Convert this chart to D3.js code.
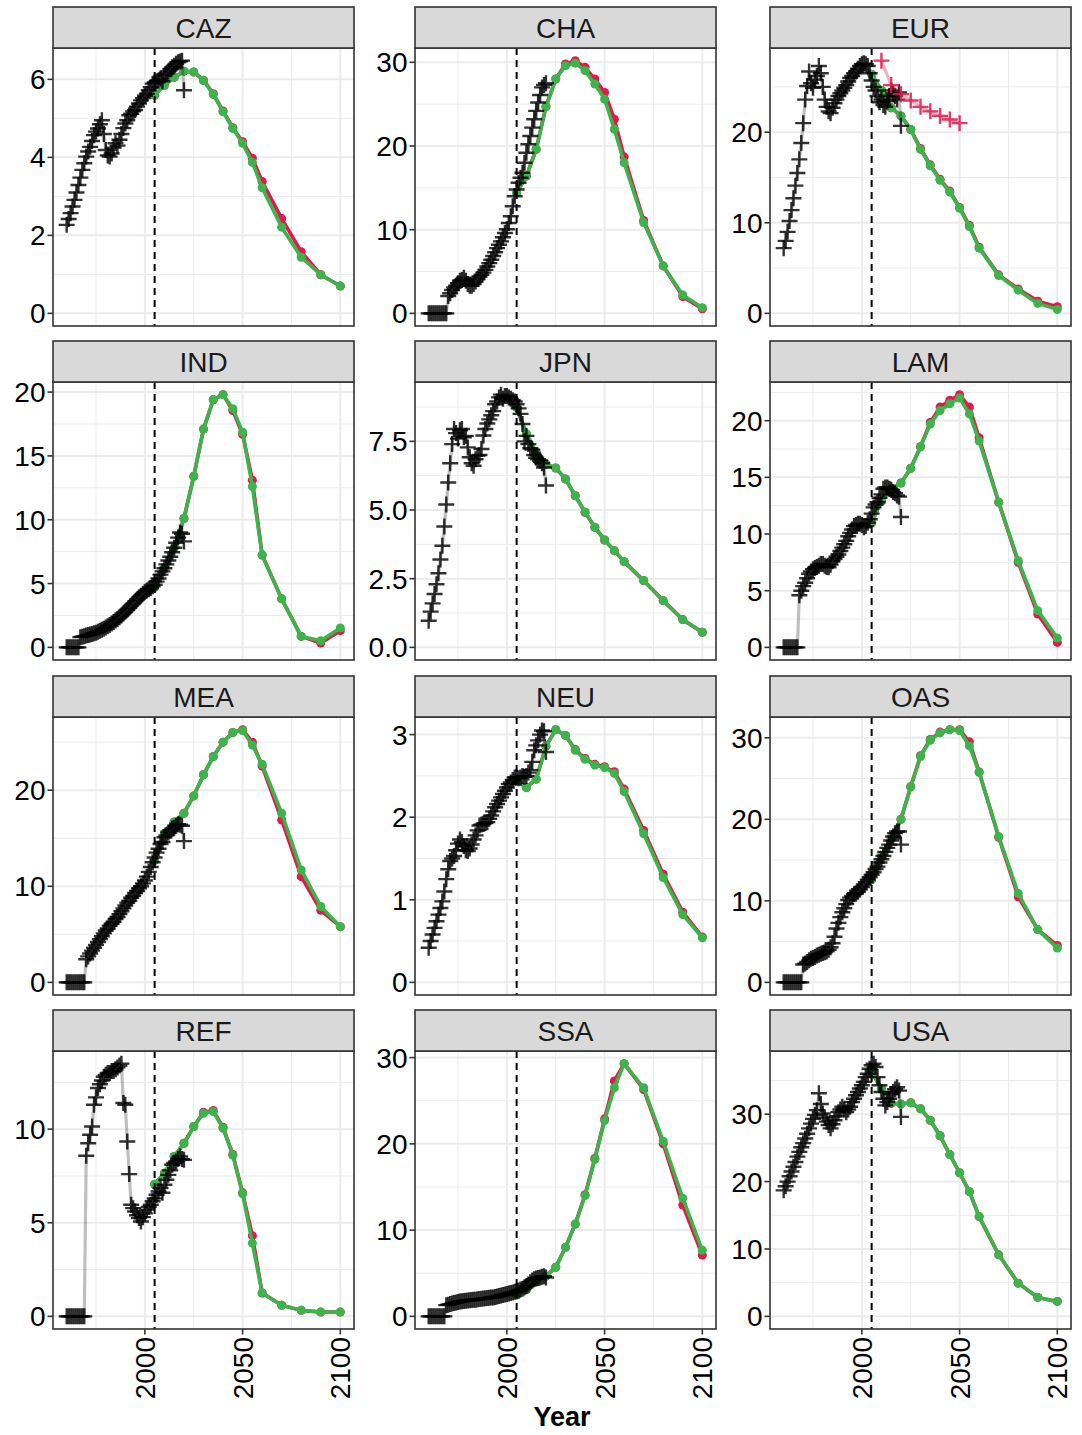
<!DOCTYPE html>
<html><head><meta charset="utf-8">
<script src="https://cdn.jsdelivr.net/npm/d3@7"></script>
<style>body{margin:0;background:#fff} svg text{font-family:"Liberation Sans",Arial,Helvetica,sans-serif}</style>
</head><body><svg id="c" width="1082" height="1435"></svg>
<script>
// ---------------- DATA ----------------
const regions = ["CAZ","CHA","EUR","IND","JPN","LAM","MEA","NEU","OAS","REF","SSA","USA"];
const histYears = d3.range(1960, 2021);
const scenYears = [2005,2010,2015,2020,2025,2030,2035,2040,2045,2050,2055,2060,2070,2080,2090,2100];
const targetYears = [2010,2015,2020,2025,2030,2035,2040,2045,2050];
const xTicks = [2000, 2050, 2100];
const xMinor = [1975, 2025, 2075];
const refYear = 2005;

const histCAZ = [2.27,2.42,2.57,2.74,2.91,3.10,3.29,3.48,3.68,3.85,4.02,4.15,4.27,4.42,4.57,4.66,4.74,4.85,4.95,4.60,4.19,4.05,4.02,4.10,4.25,4.36,4.30,4.45,4.60,4.75,4.87,4.95,5.08,5.12,5.18,5.21,5.30,5.38,5.46,5.52,5.58,5.63,5.72,5.80,5.89,5.92,5.95,5.97,6.02,5.95,6.10,6.15,6.20,6.26,6.31,6.35,6.40,6.44,6.46,6.48,5.72];
const histCHA = [0,0,0,0,0,0,0,0,0,0,2.07,2.4,2.8,3.1,3.3,3.6,3.9,4.0,4.27,3.9,3.5,3.3,3.3,3.5,3.8,4.1,4.4,4.6,4.87,5.2,5.6,6.0,6.4,6.86,7.3,7.8,8.2,8.6,9.1,9.6,10.05,10.8,11.6,12.8,14.0,14.8,15.6,16.2,16.8,18.0,19.2,20.2,21.2,22.2,23.2,24.2,25.2,26.1,27.0,27.3,27.5];
const histEUR = [7.2,8.0,9.0,10.2,11.4,12.7,14.1,15.5,17.0,18.8,21.0,23.6,25.1,26.7,25.4,24.9,25.8,26.2,27.3,26.5,25.0,23.6,22.8,22.3,22.1,22.7,23.2,23.6,24.0,24.3,24.6,24.9,25.2,25.6,26.0,26.2,26.5,26.7,27.0,27.3,27.5,27.6,27.5,27.3,26.5,25.7,25.0,24.6,24.0,23.3,23.6,23.0,22.8,23.4,24.0,24.6,24.3,24.0,23.6,24.4,20.7];
const histIND = [0,0,0,0,0,0,0,0.80,0.84,0.88,0.92,0.96,1.0,1.05,1.1,1.15,1.22,1.3,1.38,1.46,1.55,1.65,1.75,1.86,1.98,2.1,2.22,2.36,2.5,2.65,2.8,2.95,3.1,3.27,3.43,3.6,3.75,3.9,4.05,4.2,4.35,4.45,4.55,4.65,4.78,4.9,5.15,5.4,5.7,5.95,6.2,6.5,6.8,7.1,7.45,7.8,8.2,8.6,9.0,8.9,8.3];
const histJPN = [0.97,1.3,1.6,1.94,2.3,2.7,3.2,3.7,4.4,5.2,6.0,6.7,7.4,7.95,7.8,7.6,7.9,7.95,7.65,7.7,7.28,6.92,6.7,6.61,6.85,6.98,7.0,7.22,7.71,7.95,8.15,8.3,8.45,8.6,8.85,8.95,9.1,9.2,9.05,9.15,9.15,9.1,9.05,9.0,8.95,8.85,8.7,8.5,8.13,7.5,7.7,7.4,7.25,7.2,7.0,6.9,6.85,6.8,6.7,6.55,5.89];
const histLAM = [0,0,0,0,0,0,0,0,4.6,5.0,5.4,5.7,6.1,6.5,6.7,6.9,7.0,7.1,7.2,7.35,7.35,7.2,7.1,7.06,7.3,7.6,7.8,8.0,8.2,8.5,8.8,9.1,9.4,9.8,10.1,10.4,10.7,10.8,10.9,10.9,10.8,10.6,10.7,11.0,11.3,11.8,12.35,12.6,12.8,13.2,13.5,14.0,14.1,14.1,14.0,13.9,13.7,13.6,13.4,13.3,11.5];
const histMEA = [0,0,0,0,0,0,0,0,0,0,2.4,2.7,3.0,3.3,3.6,3.9,4.2,4.5,4.8,5.1,5.4,5.6,5.9,6.1,6.3,6.6,6.8,7.1,7.4,7.7,8.0,8.3,8.5,8.8,9.0,9.3,9.5,9.8,10.0,10.3,10.6,11.0,11.5,12.0,12.5,13.0,13.5,13.9,14.4,14.6,15.1,15.3,15.6,15.8,16.0,16.1,16.3,16.45,16.4,16.3,14.7];
const histNEU = [0.42,0.5,0.58,0.66,0.74,0.82,0.9,0.98,1.1,1.25,1.37,1.47,1.5,1.53,1.6,1.68,1.73,1.7,1.65,1.6,1.59,1.62,1.67,1.73,1.78,1.84,1.9,1.91,1.92,1.93,1.94,1.98,2.02,2.07,2.12,2.16,2.2,2.24,2.28,2.32,2.36,2.4,2.42,2.45,2.48,2.48,2.47,2.48,2.5,2.49,2.5,2.54,2.57,2.67,2.81,2.87,2.93,3.0,3.05,3.04,2.79];
const histOAS = [0,0,0,0,0,0,0,0,0,0,2.2,2.3,2.5,2.7,2.9,3.0,3.1,3.3,3.4,3.5,3.6,3.7,3.8,4.0,4.3,4.8,5.6,6.6,7.3,8.0,8.6,9.1,9.6,10.1,10.4,10.6,10.8,10.9,11.1,11.4,11.7,12.0,12.3,12.6,12.9,13.2,13.5,13.9,14.2,14.7,15.1,15.5,16.0,16.5,16.9,17.4,17.9,18.3,18.5,18.5,16.9];
const histREF = [0,0,0,0,0,0,0,0,0,0,8.58,9.25,9.7,10.14,11.3,11.7,12.2,12.4,12.6,12.8,12.9,13.0,13.0,13.1,13.1,13.2,13.3,13.4,13.5,11.4,11.3,9.34,7.6,5.96,5.78,5.6,5.4,5.25,5.07,5.3,5.5,5.7,5.85,5.96,6.15,6.3,6.5,6.67,6.85,6.6,7.03,7.3,7.56,7.8,8.1,8.2,8.27,8.4,8.54,8.4,8.36];
const histSSA = [0,0,0,0,0,0,0,0,0,1.3,1.36,1.42,1.48,1.54,1.6,1.66,1.72,1.75,1.78,1.82,1.85,1.88,1.9,1.92,1.94,1.97,2.0,2.03,2.06,2.09,2.12,2.15,2.18,2.2,2.25,2.3,2.36,2.42,2.48,2.54,2.6,2.66,2.72,2.78,2.84,2.9,3.0,3.1,3.2,3.35,3.5,3.7,3.95,4.15,4.3,4.4,4.45,4.5,4.6,4.66,4.5];
const histUSA = [18.7,19.3,20.0,20.8,21.5,22.2,22.9,23.7,24.4,25.1,25.7,26.4,27.1,27.9,28.6,29.3,29.9,30.6,33.1,31.5,30.1,29.5,28.9,28.4,27.9,28.5,29.1,29.7,30.3,30.7,31.1,30.7,30.3,30.7,31.1,31.8,32.3,32.8,33.3,33.8,34.3,34.8,35.5,36.0,36.75,37.25,37.5,37.0,35.5,34.3,33.3,32.3,31.3,31.8,32.3,33.0,33.3,33.7,34.0,33.5,29.6];

const redCAZ   = [5.59,5.85,6.05,6.21,6.19,5.98,5.63,5.19,4.76,4.40,3.98,3.38,2.43,1.58,0.99,0.70];
const greenCAZ = [5.59,5.85,6.05,6.21,6.19,5.97,5.61,5.17,4.74,4.36,3.87,3.22,2.21,1.44,0.99,0.70];
const redCHA   = [14.4,16.4,19.6,24.7,28.0,29.8,30.2,29.4,28.0,26.4,23.2,18.7,11.1,5.67,2.0,0.55];
const greenCHA = [14.4,16.4,19.6,24.7,28.0,29.6,29.9,29.0,27.4,25.6,22.0,18.0,10.85,5.67,2.19,0.68];
const redEUR   = [26.4,24.6,22.7,21.8,20.3,18.2,16.4,14.8,13.5,11.7,9.7,7.3,4.25,2.7,1.35,0.73];
const greenEUR = [26.4,24.6,22.7,21.8,20.3,18.1,16.3,14.7,13.4,11.6,9.58,7.2,4.17,2.56,1.10,0.44];
const redIND   = [4.7,6.2,7.8,10.1,13.4,17.1,19.4,19.8,18.55,16.7,13.1,7.23,3.8,0.86,0.34,1.31];
const greenIND = [4.7,6.2,7.8,10.1,13.4,17.1,19.4,19.8,18.7,16.85,12.6,7.23,3.8,0.86,0.52,1.52];
const redJPN   = [8.74,7.77,7.1,6.67,6.53,6.13,5.52,4.92,4.37,3.91,3.52,3.12,2.43,1.70,1.01,0.55];
const greenJPN = [8.74,7.77,7.1,6.67,6.53,6.13,5.52,4.92,4.37,3.91,3.52,3.12,2.43,1.70,1.01,0.55];
const redLAM   = [11.0,12.9,14.0,14.5,15.8,17.7,19.85,21.2,21.8,22.3,21.2,18.5,12.8,7.5,2.94,0.44];
const greenLAM = [11.0,12.9,14.0,14.5,15.8,17.7,19.7,20.9,21.5,22.0,20.6,18.2,12.8,7.65,3.24,0.82];
const redMEA   = [12.7,15.5,16.7,17.6,19.4,21.6,23.5,25.0,26.0,26.3,25.0,22.5,16.9,11.0,7.5,5.8];
const greenMEA = [12.7,15.5,16.7,17.6,19.4,21.6,23.5,25.0,26.0,26.2,24.7,22.7,17.6,11.7,7.9,5.8];
const redNEU   = [2.44,2.36,2.46,2.86,3.06,2.99,2.82,2.71,2.64,2.61,2.55,2.34,1.84,1.31,0.85,0.55];
const greenNEU = [2.44,2.36,2.46,2.86,3.06,2.99,2.81,2.70,2.63,2.60,2.53,2.31,1.80,1.27,0.82,0.54];
const redOAS   = [12.6,15.5,17.7,20.0,24.0,27.8,29.8,30.7,31.0,31.0,29.5,25.8,17.8,10.5,6.47,4.53];
const greenOAS = [12.6,15.5,17.7,20.0,24.0,27.7,29.7,30.6,31.0,30.9,29.0,25.75,17.9,10.9,6.47,4.2];
const redREF   = [7.06,7.65,8.54,9.25,10.14,10.9,11.0,10.1,8.65,6.6,4.31,1.25,0.59,0.32,0.23,0.23];
const greenREF = [7.06,7.65,8.54,9.25,10.14,10.85,10.94,10.05,8.6,6.55,3.91,1.25,0.59,0.32,0.23,0.23];
const redSSA   = [2.5,3.1,4.1,4.66,5.7,8.0,10.7,14.1,18.3,22.9,27.3,29.3,26.3,20.0,12.9,7.1];
const greenSSA = [2.5,3.1,4.1,4.66,5.7,8.0,10.7,14.0,18.2,22.7,26.5,29.3,26.5,20.3,13.7,7.66];
const redUSA   = [36.3,33.8,31.6,31.5,31.7,30.8,29.1,26.8,24.0,21.3,18.5,14.8,9.13,4.93,2.81,2.22];
const greenUSA = [36.3,33.8,31.6,31.5,31.7,30.8,29.1,26.8,24.0,21.3,18.5,14.8,9.13,4.93,2.81,2.22];

const targetEUR = [27.9,25.2,24.2,23.5,22.8,22.3,21.8,21.4,21.0];

const yTicksCAZ = [0,2,4,6];
const yTicksCHA = [0,10,20,30];
const yTicksEUR = [0,10,20];
const yTicksIND = [0,5,10,15,20];
const yTicksJPN = [0,2.5,5,7.5];
const yTicksLAM = [0,5,10,15,20];
const yTicksMEA = [0,10,20];
const yTicksNEU = [0,1,2,3];
const yTicksOAS = [0,10,20,30];
const yTicksREF = [0,5,10];
const yTicksSSA = [0,10,20,30];
const yTicksUSA = [0,10,20,30];

const xTitle = "Year";

// table built from the arrays
const table = {
  CAZ:{hist:histCAZ, red:redCAZ, green:greenCAZ, ticks:yTicksCAZ},
  CHA:{hist:histCHA, red:redCHA, green:greenCHA, ticks:yTicksCHA},
  EUR:{hist:histEUR, red:redEUR, green:greenEUR, ticks:yTicksEUR, target:targetEUR},
  IND:{hist:histIND, red:redIND, green:greenIND, ticks:yTicksIND},
  JPN:{hist:histJPN, red:redJPN, green:greenJPN, ticks:yTicksJPN, fmt:".1f"},
  LAM:{hist:histLAM, red:redLAM, green:greenLAM, ticks:yTicksLAM},
  MEA:{hist:histMEA, red:redMEA, green:greenMEA, ticks:yTicksMEA},
  NEU:{hist:histNEU, red:redNEU, green:greenNEU, ticks:yTicksNEU},
  OAS:{hist:histOAS, red:redOAS, green:greenOAS, ticks:yTicksOAS},
  REF:{hist:histREF, red:redREF, green:greenREF, ticks:yTicksREF},
  SSA:{hist:histSSA, red:redSSA, green:greenSSA, ticks:yTicksSSA},
  USA:{hist:histUSA, red:redUSA, green:greenUSA, ticks:yTicksUSA}
};

// ---------------- LAYOUT / STYLE ----------------
const colLeft = [53, 415, 770];
const panelW = 301;
const stripTop = [7, 341, 676, 1010];
const stripH = 41, panelH = 278;
const FONT = 28;
const RED = "#E3194B", GREEN = "#3CB44B";

const svg = d3.select("#c");
const xExt = [d3.min(histYears), d3.max(scenYears)];
const xPad = 0.05 * (xExt[1] - xExt[0]);
const x = d3.scaleLinear().domain([xExt[0] - xPad, xExt[1] + xPad]).range([0, panelW]);

function plusPath(px, py, h) {
  return `M${px - h},${py}H${px + h}M${px},${py - h}V${py + h}`;
}

regions.forEach((reg, i) => {
  const d = table[reg];
  const col = i % 3, row = Math.floor(i / 3);
  const left = colLeft[col];
  const top = stripTop[row] + stripH;
  const all = d.hist.concat(d.red, d.green, d.target || [], [0]);
  const yMin = d3.min(all), yMax = d3.max(all);
  const yPad = 0.05 * (yMax - yMin);
  const y = d3.scaleLinear().domain([yMin - yPad, yMax + yPad]).range([panelH, 0]);

  const g = svg.append("g").attr("transform", `translate(${left},${top})`);
  g.append("rect").attr("width", panelW).attr("height", panelH).attr("fill", "#fff");

  // minor grid
  const step = d.ticks[1] - d.ticks[0];
  const yMinor = [];
  for (let k = -1; k <= d.ticks.length; k++) {
    const v = d.ticks[0] + step / 2 + k * step;
    if (v > y.domain()[0] && v < y.domain()[1]) yMinor.push(v);
  }
  g.selectAll(".ymin").data(yMinor).join("line")
    .attr("x1", 0).attr("x2", panelW).attr("y1", v => y(v)).attr("y2", v => y(v))
    .attr("stroke", "#EBEBEB").attr("stroke-width", 1);
  g.selectAll(".xmin").data(xMinor).join("line")
    .attr("y1", 0).attr("y2", panelH).attr("x1", v => x(v)).attr("x2", v => x(v))
    .attr("stroke", "#EBEBEB").attr("stroke-width", 1);
  // major grid
  g.selectAll(".ymaj").data(d.ticks).join("line")
    .attr("x1", 0).attr("x2", panelW).attr("y1", v => y(v)).attr("y2", v => y(v))
    .attr("stroke", "#EBEBEB").attr("stroke-width", 2);
  g.selectAll(".xmaj").data(xTicks).join("line")
    .attr("y1", 0).attr("y2", panelH).attr("x1", v => x(v)).attr("x2", v => x(v))
    .attr("stroke", "#EBEBEB").attr("stroke-width", 2);

  const line = d3.line().x(p => x(p[0])).y(p => y(p[1]));

  // scenarios: red then green
  [[d.red, RED], [d.green, GREEN]].forEach(([vals, colr]) => {
    const pts = scenYears.map((yr, k) => [yr, vals[k]]);
    g.append("path").attr("d", line(pts)).attr("fill", "none")
      .attr("stroke", colr).attr("stroke-width", 3.6).attr("stroke-linejoin", "round");
    g.selectAll(null).data(pts).join("circle")
      .attr("cx", p => x(p[0])).attr("cy", p => y(p[1])).attr("r", 4.5).attr("fill", colr);
  });

  // historical
  const hpts = histYears.map((yr, k) => [yr, d.hist[k]]);
  g.append("path").attr("d", line(hpts)).attr("fill", "none")
    .attr("stroke", "#000").attr("stroke-opacity", 0.25).attr("stroke-width", 3.2);
  g.selectAll(null).data(hpts).join("path")
    .attr("d", p => plusPath(x(p[0]), y(p[1]), 8))
    .attr("stroke", "#000").attr("stroke-opacity", 0.8).attr("stroke-width", 2.4).attr("fill", "none");

  // target series
  if (d.target) {
    const tpts = targetYears.map((yr, k) => [yr, d.target[k]]);
    g.append("path").attr("d", line(tpts)).attr("fill", "none")
      .attr("stroke", RED).attr("stroke-opacity", 0.35).attr("stroke-width", 3.2);
    g.selectAll(null).data(tpts).join("path")
      .attr("d", p => plusPath(x(p[0]), y(p[1]), 8))
      .attr("stroke", RED).attr("stroke-opacity", 0.85).attr("stroke-width", 2.4).attr("fill", "none");
  }

  // reference dashed line
  g.append("line").attr("x1", x(refYear)).attr("x2", x(refYear)).attr("y1", 0).attr("y2", panelH)
    .attr("stroke", "#000").attr("stroke-width", 2).attr("stroke-dasharray", "7,5");

  // border
  g.append("rect").attr("width", panelW).attr("height", panelH).attr("fill", "none")
    .attr("stroke", "#333").attr("stroke-width", 1.6);

  // strip
  const s = svg.append("g").attr("transform", `translate(${left},${stripTop[row]})`);
  s.append("rect").attr("width", panelW).attr("height", stripH).attr("fill", "#D9D9D9")
    .attr("stroke", "#333").attr("stroke-width", 1.6);
  s.append("text").attr("x", panelW / 2).attr("y", stripH / 2 + FONT * 0.36)
    .attr("text-anchor", "middle").attr("font-size", FONT).attr("fill", "#1A1A1A").text(reg);

  // y axis
  const fmt = d.fmt ? d3.format(d.fmt) : d3.format("d");
  g.selectAll(".yt").data(d.ticks).join("line")
    .attr("x1", -5.5).attr("x2", 0).attr("y1", v => y(v)).attr("y2", v => y(v))
    .attr("stroke", "#333").attr("stroke-width", 1.6);
  g.selectAll(".yl").data(d.ticks).join("text")
    .attr("x", -7.5).attr("y", v => y(v)).attr("dy", "0.36em").attr("text-anchor", "end")
    .attr("font-size", FONT).attr("fill", "#000").text(v => fmt(v));

  // x axis (bottom row only)
  if (row === 3) {
    g.selectAll(".xt").data(xTicks).join("line")
      .attr("x1", v => x(v)).attr("x2", v => x(v)).attr("y1", panelH).attr("y2", panelH + 5.5)
      .attr("stroke", "#333").attr("stroke-width", 1.6);
    g.selectAll(".xl").data(xTicks).join("text")
      .attr("transform", v => `translate(${x(v)},${panelH + 8}) rotate(-90)`)
      .attr("text-anchor", "end").attr("dy", "0.36em")
      .attr("font-size", FONT).attr("fill", "#000").text(v => v);
  }
});

svg.append("text").attr("x", (colLeft[0] + colLeft[2] + panelW) / 2).attr("y", 1426)
  .attr("text-anchor", "middle").attr("font-size", 27).attr("font-weight", "bold")
  .attr("fill", "#000").text(xTitle);
</script></body></html>
